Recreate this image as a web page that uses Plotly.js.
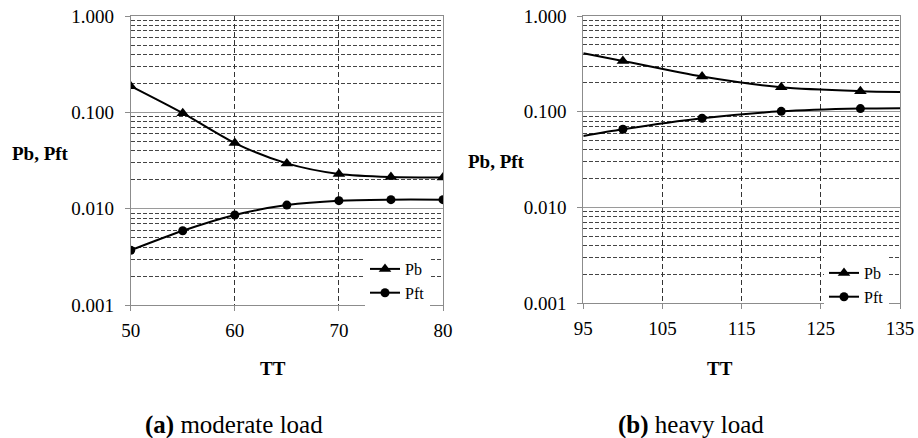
<!DOCTYPE html>
<html>
<head>
<meta charset="utf-8">
<script src="https://cdn.plot.ly/plotly-3.0.1.min.js"></script>
<style>
  html, body { margin: 0; padding: 0; background: #fff; }
  #chart text, #chart tspan { font-family: 'Liberation Serif', 'Times New Roman', serif !important; }
</style>
</head>
<body>
<div id="chart"></div>
<script>
// ---- Data ----
const ttModerate = [50, 55, 60, 65, 70, 75, 80];
const pbModerate = [0.187, 0.098, 0.048, 0.0295, 0.0229, 0.0213, 0.0211];
const pftModerate = [0.0037, 0.0059, 0.0086, 0.0109, 0.0121, 0.0124, 0.0124];

const ttHeavy = [95, 100, 110, 120, 130, 135];
const pbHeavy = [0.408, 0.339, 0.233, 0.180, 0.164, 0.161];
const pftHeavy = [0.0559, 0.0656, 0.0855, 0.101, 0.108, 0.109];
// points that carry a marker in the heavy-load panel
const ttHeavyMarked = [100, 110, 120, 130];
const pbHeavyMarked = [0.339, 0.233, 0.180, 0.164];
const pftHeavyMarked = [0.0656, 0.0855, 0.101, 0.108];

const seriesNames = ['Pb', 'Pft'];
const yTitle = 'Pb, Pft';
const xTitle = 'TT';
const captions = ['<b>(a)</b> moderate load', '<b>(b)</b> heavy load'];

// ---- Styles ----
const lineStyle = { color: '#000', width: 2, shape: 'spline', smoothing: 0.8 };
const triMarker = { symbol: 'triangle-up', size: 11, color: '#000' };
const dotMarker = { symbol: 'circle', size: 9, color: '#000' };

const traces = [
  { x: ttModerate, y: pbModerate, name: seriesNames[0], mode: 'lines+markers',
    line: lineStyle, marker: triMarker, xaxis: 'x', yaxis: 'y', legend: 'legend' },
  { x: ttModerate, y: pftModerate, name: seriesNames[1], mode: 'lines+markers',
    line: lineStyle, marker: dotMarker, xaxis: 'x', yaxis: 'y', legend: 'legend' },

  { x: ttHeavy, y: pbHeavy, mode: 'lines', line: lineStyle, showlegend: false,
    xaxis: 'x2', yaxis: 'y2' },
  { x: ttHeavy, y: pftHeavy, mode: 'lines', line: lineStyle, showlegend: false,
    xaxis: 'x2', yaxis: 'y2' },
  { x: ttHeavyMarked, y: pbHeavyMarked, mode: 'markers', marker: triMarker,
    showlegend: false, xaxis: 'x2', yaxis: 'y2' },
  { x: ttHeavyMarked, y: pftHeavyMarked, mode: 'markers', marker: dotMarker,
    showlegend: false, xaxis: 'x2', yaxis: 'y2' },
  // legend entries for the heavy-load panel
  { x: [null], y: [null], name: seriesNames[0], mode: 'lines+markers',
    line: lineStyle, marker: triMarker, xaxis: 'x2', yaxis: 'y2', legend: 'legend2' },
  { x: [null], y: [null], name: seriesNames[1], mode: 'lines+markers',
    line: lineStyle, marker: dotMarker, xaxis: 'x2', yaxis: 'y2', legend: 'legend2' }
];

const W = 918, H = 438;
const fx = v => v / W;
const fy = v => 1 - v / H;

function makeX(domain, range, tick0) {
  return {
    domain: domain, range: range, tick0: tick0, dtick: 10, tickmode: 'linear',
    showline: true, linecolor: '#8c8c8c', linewidth: 1, mirror: true,
    ticks: 'outside', ticklen: 5, tickcolor: '#8c8c8c',
    showgrid: true, gridcolor: '#333', gridwidth: 1, griddash: '5px,3px',
    zeroline: false, ticklabelstandoff: 3,
    tickfont: { size: 19, color: '#000' }
  };
}
function makeY(domain, anchor) {
  return {
    domain: domain, anchor: anchor, type: 'log', range: [-3, 0], dtick: 1,
    tickformat: '.3f',
    showline: true, linecolor: '#8c8c8c', linewidth: 1, mirror: true,
    ticks: 'outside', ticklen: 5, tickcolor: '#8c8c8c',
    showgrid: true, gridcolor: '#9a9a9a', gridwidth: 1,
    minor: { dtick: 'D1', showgrid: true, gridcolor: '#444', gridwidth: 1,
             griddash: '4px,2px', ticks: '' },
    zeroline: false, ticklabelstandoff: 7,
    tickfont: { size: 19, color: '#000' }
  };
}

const legendBase = {
  bgcolor: '#fff', borderwidth: 0, itemwidth: 30,
  font: { size: 16, color: '#000' },
  xanchor: 'left', yanchor: 'top', tracegroupgap: 0
};

const annotations = [
  { text: '<b>' + yTitle + '</b>', x: fx(40), y: fy(154) },
  { text: '<b>' + yTitle + '</b>', x: fx(496), y: fy(161) },
  { text: '<b>' + xTitle + '</b>', x: fx(273), y: fy(368) },
  { text: '<b>' + xTitle + '</b>', x: fx(720), y: fy(368) },
  { text: captions[0], x: fx(234), y: fy(425), font: { size: 25, color: '#000' } },
  { text: captions[1], x: fx(691), y: fy(425), font: { size: 25, color: '#000' } }
].map(a => Object.assign({ xref: 'paper', yref: 'paper', showarrow: false,
  xanchor: 'center', yanchor: 'middle', font: { size: 19, color: '#000' } }, a));

const layout = {
  width: W, height: H,
  margin: { l: 0, r: 0, t: 0, b: 0 },
  paper_bgcolor: '#fff', plot_bgcolor: '#fff',
  font: { family: 'Liberation Serif', size: 19, color: '#000' },
  xaxis: makeX([fx(130.7), fx(443)], [50, 80], 50),
  yaxis: makeY([fy(305), fy(16)], 'x'),
  xaxis2: Object.assign(makeX([fx(583.3), fx(900)], [95, 135], 95), { anchor: 'y2' }),
  yaxis2: makeY([fy(303.3), fy(16)], 'x2'),
  legend: Object.assign({}, legendBase, { x: fx(365), y: fy(252) }),
  legend2: Object.assign({}, legendBase, { x: fx(824), y: fy(256) }),
  annotations: annotations,
  showlegend: true
};

Plotly.newPlot('chart', traces, layout, { displayModeBar: false, staticPlot: true });
</script>
</body>
</html>
